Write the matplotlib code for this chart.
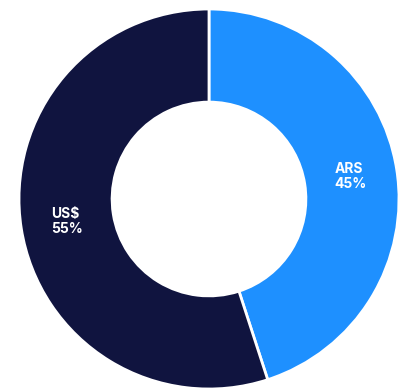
import matplotlib
matplotlib.use("Agg")
import numpy as np
import matplotlib.pyplot as plt

# Data
labels = ["ARS", "US$"]
shares = [45, 55]
colours = ["#1E90FF", "#10143F"]

W, H, dpi = 398, 390, 100
cx, cy, R = 209, 199, 190

fig = plt.figure(figsize=(W / dpi, H / dpi), dpi=dpi)
ax = fig.add_axes([0, 0, 1, 1])

wedges, _ = ax.pie(shares, colors=colours, startangle=90, counterclock=False,
                   radius=1.0, wedgeprops=dict(width=0.49, edgecolor="white", linewidth=2))

# Labels in the middle of the ring
ang = 90.0
for lab, val in zip(labels, shares):
    mid = np.deg2rad(ang - val * 3.6 / 2)
    ang -= val * 3.6
    r = 0.755
    ax.text(r * np.cos(mid), r * np.sin(mid), "%s\n%d%%" % (lab, val),
            ha="center", va="center", multialignment="left", color="white",
            fontsize=10, fontweight="bold", family=["Inter", "DejaVu Sans"],
            linespacing=1.1)

ax.set_xlim(-cx / R, (W - cx) / R)
ax.set_ylim(-(H - cy) / R, cy / R)
ax.set_aspect("auto")
ax.axis("off")

fig.savefig("out.png", dpi=dpi)
